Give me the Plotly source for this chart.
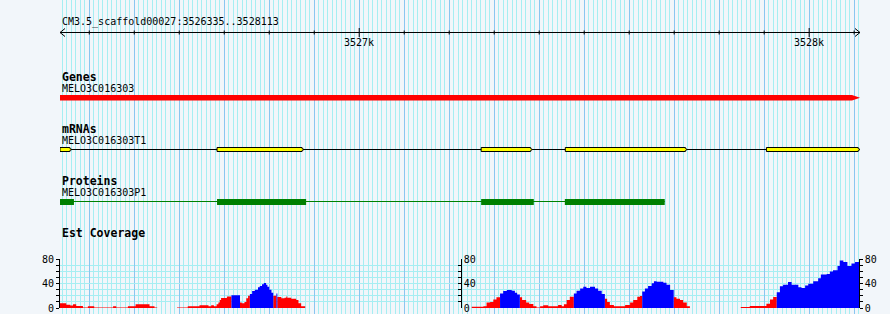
import plotly.graph_objects as go

# ---------------- data ----------------
region_name = "CM3.5_scaffold00027"
region_start = 3526335
region_end = 3528113

ruler_minor_step = 100
ruler_major = [3527000, 3528000]

gene_name = "MELO3C016303"
gene_start = 3526335
gene_end = 3528113

mrna_name = "MELO3C016303T1"
mrna_exon_starts = [3526335, 3526684, 3527271, 3527458, 3527905]
mrna_exon_ends = [3526357, 3526873, 3527381, 3527725, 3528109]

protein_name = "MELO3C016303P1"
cds_starts = [3526335, 3526684, 3527271, 3527457]
cds_ends = [3526366, 3526882, 3527388, 3527679]

cov_left_edges = [3526335, 3526349, 3526358, 3526364, 3526371, 3526386, 3526397, 3526411,
                  3526453, 3526460, 3526486, 3526503, 3526534, 3526545, 3526551, 3526595,
                  3526619, 3526645, 3526665, 3526671, 3526677, 3526683, 3526687, 3526690,
                  3526693, 3526706, 3526716, 3526735, 3526739, 3526745, 3526749, 3526753,
                  3526757, 3526762, 3526768, 3526775, 3526779, 3526784, 3526788, 3526793,
                  3526796, 3526800, 3526805, 3526809, 3526816, 3526818, 3526827, 3526834,
                  3526838, 3526840, 3526849, 3526860, 3526865, 3526871, 3526880]
cov_left_values = [8, 5.5, 4, 6, 3.3, 1, 3, 1, 3, 1, 3, 6, 3, 1, 0, 1, 3, 4.5, 3, 4.5,
                   3, 6, 9, 13, 16.5, 19, 21, 9, 8, 10, 16, 20, 23, 28, 30, 34, 36, 39,
                   41, 38, 35, 30, 25, 20, 24, 18, 16, 17, 19, 17, 15, 13, 8, 3]

cov_right_edges = [3527250, 3527276, 3527283, 3527291, 3527298, 3527305, 3527313, 3527320,
                   3527328, 3527339, 3527346, 3527351, 3527357, 3527362, 3527371, 3527378,
                   3527387, 3527394, 3527402, 3527409, 3527420, 3527442, 3527450, 3527455,
                   3527461, 3527468, 3527477, 3527483, 3527491, 3527498, 3527505, 3527513,
                   3527524, 3527531, 3527539, 3527546, 3527551, 3527557, 3527566, 3527591,
                   3527602, 3527609, 3527618, 3527624, 3527629, 3527635, 3527642, 3527650,
                   3527655, 3527661, 3527676, 3527683, 3527691, 3527699, 3527705, 3527713,
                   3527720, 3527728, 3527735, 3527848, 3527868, 3527905, 3527913, 3527920,
                   3527928, 3527935, 3527942, 3527953, 3527961, 3527976, 3527983, 3527991,
                   3527998, 3528009, 3528020, 3528026, 3528039, 3528046, 3528053, 3528063,
                   3528068, 3528076, 3528085, 3528094, 3528102, 3528111, 3528113]
cov_right_values = [2, 3, 9, 10, 14, 17.5, 24, 28, 29.6, 28.5, 25, 22, 17.5, 13, 9, 6.5,
                    3, 1, 3, 4.4, 3, 5, 3, 6, 13, 18.6, 24, 28.5, 32, 35, 33, 35, 32, 28.5,
                    23, 15, 10, 5, 3, 5, 9, 13, 18.6, 19.7, 27, 32, 36, 40.5, 44, 43, 41.6,
                    38, 29.6, 17.5, 15, 13, 9, 3, 0, 1.6, 3.3, 7, 14, 18, 26, 35.6, 38,
                    42.7, 38, 34, 33, 37, 40, 44, 49, 55, 56, 60, 62, 69, 78, 75.6, 69, 73,
                    75.6, 80]
cov_pivot = 20
cov_max = 80

# ---------------- style / layout ----------------
W, H = 890, 314
X0_PX, X1_PX = 60, 860
BP_PER_PX = (region_end - region_start) / (X1_PX - X0_PX)
MONO = "DejaVu Sans Mono"
BG = "#f2f6fa"
MINOR_GRID = "#a6eef2"
MAJOR_GRID = "#8ac6f0"
RED, BLUE, YELLOW, GREEN = "#ff0000", "#0000ff", "#ffff00", "#008000"

RULER_Y = 32.5
GENE_TOP, GENE_BOT = 95, 100.5
MRNA_Y, MRNA_TOP, MRNA_BOT = 149.5, 147.5, 151.5
CDS_Y, CDS_TOP, CDS_BOT = 201.5, 199, 205
COV_ZERO_PX, COV_TOP_PX = 308, 259.3


def pxx(p):
    return p / W


def pyy(p):
    return 1 - p / H


fig = go.Figure()

# ruler
fig.add_trace(go.Scatter(x=[region_start, region_end], y=[RULER_Y, RULER_Y], mode="lines",
                         line=dict(color="black", width=1), xaxis="x", yaxis="y"))
ah = 5 * BP_PER_PX
fig.add_trace(go.Scatter(
    x=[region_start + ah, region_start, region_start + ah, None,
       region_end - ah, region_end, region_end - ah],
    y=[RULER_Y - 4, RULER_Y, RULER_Y + 4, None, RULER_Y - 4, RULER_Y, RULER_Y + 4],
    mode="lines", line=dict(color="black", width=1)))
tx, ty = [], []
first_tick = (region_start // ruler_minor_step + 1) * ruler_minor_step
for t in range(first_tick, region_end, ruler_minor_step):
    if t in ruler_major:
        tx += [t, t, None]
        ty += [RULER_Y - 4.5, RULER_Y + 4.5, None]
    else:
        tx += [t, t, None]
        ty += [RULER_Y - 2, RULER_Y + 2, None]
fig.add_trace(go.Scatter(x=tx, y=ty, mode="lines", line=dict(color="black", width=1)))

# gene
tip = 8 * BP_PER_PX
gmid = (GENE_TOP + GENE_BOT) / 2
fig.add_trace(go.Scatter(
    x=[gene_start, gene_end - tip, gene_end, gene_end - tip, gene_start, gene_start],
    y=[GENE_TOP, GENE_TOP, gmid, GENE_BOT, GENE_BOT, GENE_TOP],
    mode="lines", fill="toself", fillcolor=RED, line=dict(width=0, color=RED)))

# mRNA
fig.add_trace(go.Scatter(x=[mrna_exon_starts[0], mrna_exon_ends[-1]], y=[MRNA_Y, MRNA_Y],
                         mode="lines", line=dict(color="black", width=1)))
ex, ey = [], []
etip = 2 * BP_PER_PX
for s, e in zip(mrna_exon_starts, mrna_exon_ends):
    ex += [s, e, e, e + etip, e, e, s, s, None]
    ey += [MRNA_TOP, MRNA_TOP, MRNA_Y - 1, MRNA_Y, MRNA_Y + 1, MRNA_BOT, MRNA_BOT, MRNA_TOP, None]
fig.add_trace(go.Scatter(x=ex, y=ey, mode="lines", fill="toself", fillcolor=YELLOW,
                         line=dict(color="black", width=1)))

# proteins
fig.add_trace(go.Scatter(x=[cds_starts[0], cds_ends[-1]], y=[CDS_Y, CDS_Y],
                         mode="lines", line=dict(color=GREEN, width=1)))
cx, cy = [], []
for s, e in zip(cds_starts, cds_ends):
    cx += [s, e, e, s, s, None]
    cy += [CDS_TOP, CDS_TOP, CDS_BOT, CDS_BOT, CDS_TOP, None]
fig.add_trace(go.Scatter(x=cx, y=cy, mode="lines", fill="toself", fillcolor=GREEN,
                         line=dict(color=GREEN, width=0)))


# coverage: step polygons, one per run of same colour (no seams between bins)
def cov_traces(edges, values, yaxis):
    polys = {RED: ([], []), BLUE: ([], [])}
    i = 0
    n = len(values)
    while i < n:
        col = BLUE if values[i] > cov_pivot else RED
        j = i
        while j < n and (BLUE if values[j] > cov_pivot else RED) == col:
            j += 1
        xs, ys = polys[col]
        xs.append(edges[i]); ys.append(0)
        for k in range(i, j):
            xs += [edges[k], edges[k + 1]]
            ys += [values[k], values[k]]
        xs += [edges[j], None]
        ys += [0, None]
        i = j
    out = []
    for col, (xs, ys) in polys.items():
        out.append(go.Scatter(x=xs, y=ys, mode="lines", fill="toself", fillcolor=col,
                              line=dict(width=0, color=col), xaxis="x", yaxis=yaxis))
    return out


for tr in cov_traces(cov_left_edges, cov_left_values, "y2"):
    fig.add_trace(tr)
for tr in cov_traces(cov_right_edges, cov_right_values, "y3"):
    fig.add_trace(tr)
fig.add_trace(go.Scatter(x=[region_start], y=[0], mode="markers", marker=dict(opacity=0),
                         xaxis="x", yaxis="y4"))

annotations = []


def label(text, xp, yp, size=10, bold=False):
    annotations.append(dict(
        text=f"<b>{text}</b>" if bold else text, xref="paper", yref="paper",
        x=pxx(xp), y=pyy(yp), xanchor="left", yanchor="middle", showarrow=False,
        font=dict(family=MONO, size=size, color="black")))


label(f"{region_name}:{region_start}..{region_end}", 60, 21.5)
for m in ruler_major:
    annotations.append(dict(text=f"{m // 1000}k", xref="x", yref="paper", x=m, y=pyy(42.5),
                            xanchor="center", yanchor="middle", showarrow=False,
                            font=dict(family=MONO, size=10, color="black")))
label("Genes", 59.5, 76.5, size=11.5, bold=True)
label(gene_name, 60, 88.5)
label("mRNAs", 59.5, 128.5, size=11.5, bold=True)
label(mrna_name, 60, 140.5)
label("Proteins", 59.5, 180.5, size=11.5, bold=True)
label(protein_name, 60, 192.5)
label("Est Coverage", 59.5, 232.5, size=11.5, bold=True)

cov_dom = [pyy(COV_ZERO_PX), pyy(COV_TOP_PX)]
axis_common = dict(range=[0, cov_max], tickmode="linear", tick0=0, dtick=40,
                   showline=True, linecolor="black", linewidth=1, ticklen=3,
                   tickcolor="black", zeroline=False, automargin=False,
                   tickfont=dict(family=MONO, size=10, color="black"))

fig.update_layout(
    width=W, height=H, margin=dict(l=0, r=0, t=0, b=0, autoexpand=False),
    paper_bgcolor=BG, plot_bgcolor="rgba(0,0,0,0)",
    showlegend=False, hovermode=False,
    xaxis=dict(domain=[pxx(X0_PX), pxx(X1_PX)], range=[region_start, region_end],
               anchor="y", showticklabels=False, ticks="", zeroline=False, showline=False,
               automargin=False,
               showgrid=True, gridcolor=MAJOR_GRID, gridwidth=1,
               tickmode="linear", tick0=region_start // 100 * 100, dtick=100,
               minor=dict(dtick=10, tick0=region_start // 100 * 100, showgrid=True,
                          gridcolor=MINOR_GRID, gridwidth=1)),
    yaxis=dict(domain=[0, 1], range=[H, 0], visible=False, showgrid=False, zeroline=False,
               automargin=False),
    yaxis2=dict(domain=cov_dom, anchor="x", side="left", ticks="outside",
                showgrid=True, gridcolor=MINOR_GRID,
                minor=dict(dtick=10, tick0=0, ticks="outside", ticklen=3, tickcolor="black",
                           showgrid=True, gridcolor=MINOR_GRID),
                **axis_common),
    yaxis3=dict(overlaying="y2", anchor="free", position=pxx(460.7), side="right",
                ticks="inside", showgrid=False,
                minor=dict(dtick=10, tick0=0, ticks="inside", ticklen=3, tickcolor="black",
                           showgrid=False),
                **axis_common),
    yaxis4=dict(overlaying="y2", anchor="free", position=pxx(858.7), side="right",
                ticks="outside", showgrid=False,
                minor=dict(dtick=10, tick0=0, ticks="outside", ticklen=3, tickcolor="black",
                           showgrid=False),
                **axis_common),
    annotations=annotations,
)

fig.write_html("out.html")
